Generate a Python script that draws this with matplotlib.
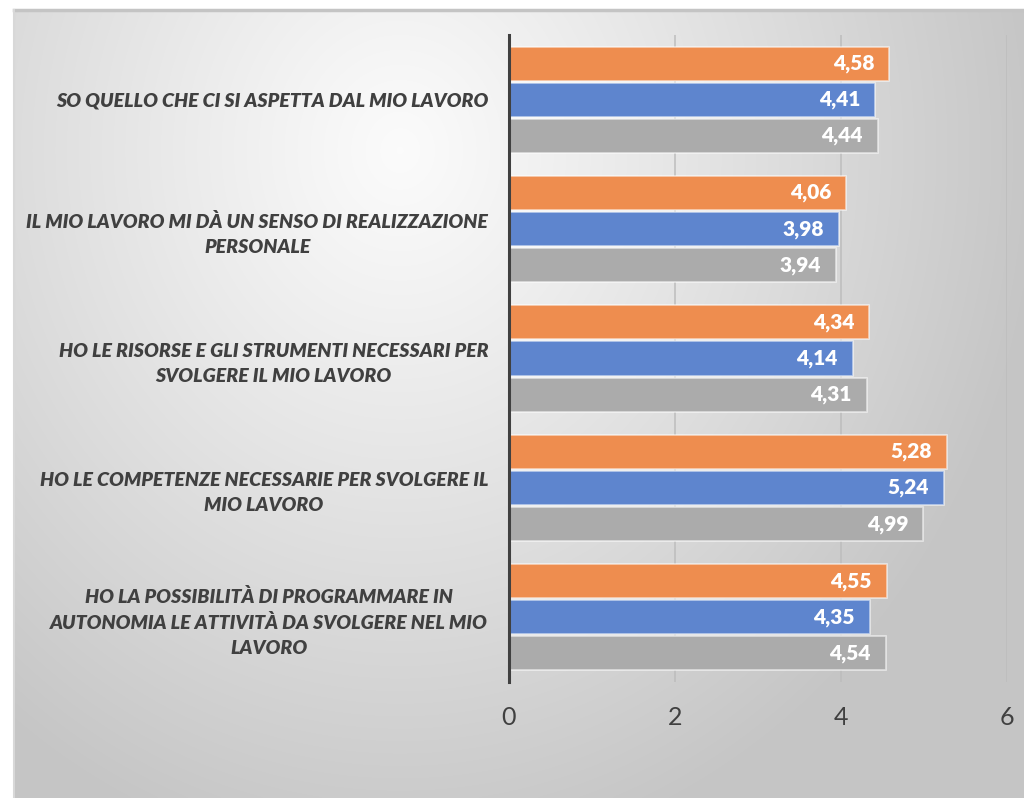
import numpy as np
import matplotlib
matplotlib.use("Agg")
import matplotlib.pyplot as plt

# Survey statements (top to bottom) and mean scores per group
categories = [
    "SO QUELLO CHE CI SI ASPETTA DAL MIO LAVORO",
    "IL MIO LAVORO MI DÀ UN SENSO DI REALIZZAZIONE\nPERSONALE",
    "HO LE RISORSE E GLI STRUMENTI NECESSARI PER\nSVOLGERE IL MIO LAVORO",
    "HO LE COMPETENZE NECESSARIE PER SVOLGERE IL\nMIO LAVORO",
    "HO LA POSSIBILITÀ DI PROGRAMMARE IN\nAUTONOMIA LE ATTIVITÀ DA SVOLGERE NEL MIO\nLAVORO",
]
series_orange = [4.58, 4.06, 4.34, 5.28, 4.55]
series_blue = [4.41, 3.98, 4.14, 5.24, 4.35]
series_gray = [4.44, 3.94, 4.31, 4.99, 4.54]
x_ticks = [0, 2, 4, 6]

colors = ["#EE8D4F", "#5E85CE", "#ABABAB"]
text_dark = "#404040"
font = "Lato"

W, H = 1024, 798
fig = plt.figure(figsize=(W / 100, H / 100), dpi=100)
fig.patch.set_facecolor("white")

# Chart-area background: soft radial gradient from near-white to light gray
x0, y0 = 14, 10
bg = fig.add_axes([x0 / W, 0, 1 - x0 / W, 1 - y0 / H])
gx = np.linspace(x0, W, 500)
gy = np.linspace(y0, H, 400)
X, Y = np.meshgrid(gx, gy)
cx, cy = 400, 150
t = np.sqrt(((X - cx) / 640) ** 2 + ((Y - cy) / 720) ** 2)
t = np.clip(t, 0, 1) ** 1.1
light, dark = 0.985, 0.775
img = light + (dark - light) * t
bg.imshow(np.dstack([img, img, img]), aspect="auto", extent=[0, 1, 0, 1],
          origin="upper", interpolation="bilinear")
bg.set_xlim(0, 1)
bg.set_ylim(0, 1)
bg.axis("off")
bg.plot([0, 1], [1, 1], color="#c4c4c4", lw=2.5, clip_on=False)
bg.plot([0, 0], [0, 1], color="#d8d8d8", lw=1.5, clip_on=False)

# Main bar axes
left, right = 509 / W, 1007 / W
bottom, top = 1 - 682 / H, 1 - 35 / H
ax = fig.add_axes([left, bottom, right - left, top - bottom])
ax.patch.set_alpha(0)

y = np.arange(len(categories))
offset = 0.279
bar_h = 0.263
for vals, col, off in zip([series_orange, series_blue, series_gray], colors,
                          [-offset, 0, offset]):
    bars = ax.barh(y + off, vals, height=bar_h, color=col,
                   edgecolor=(1, 1, 1, 0.6), linewidth=1.2, zorder=3)
    for b, v in zip(bars, vals):
        ax.annotate(f"{v:.2f}".replace(".", ","),
                    xy=(v, b.get_y() + b.get_height() / 2),
                    xytext=(-15, 0), textcoords="offset pixels",
                    ha="right", va="center", color="white",
                    fontsize=15, fontweight="heavy", family=font, zorder=4)

ax.set_xlim(0, 6)
ax.set_ylim(len(categories) - 0.5, -0.5)
ax.set_xticks(x_ticks)
ax.set_xticklabels([str(v) for v in x_ticks], fontsize=18, color=text_dark,
                   family=font)
ax.tick_params(axis="x", length=0, pad=17)
ax.set_yticks(y)
ax.set_yticklabels(categories, fontsize=14, fontweight="heavy",
                   fontstyle="italic", color=text_dark, family=font,
                   ha="right", multialignment="center", linespacing=1.55)
ax.tick_params(axis="y", length=0, pad=15)

ax.grid(axis="x", color="#bdbdbd", linewidth=1.1, zorder=0)
ax.set_axisbelow(True)
for s in ["top", "right", "bottom"]:
    ax.spines[s].set_visible(False)
ax.spines["left"].set_color(text_dark)
ax.spines["left"].set_linewidth(2.2)
ax.spines["left"].set_zorder(5)

fig.savefig("out.png", dpi=100)
